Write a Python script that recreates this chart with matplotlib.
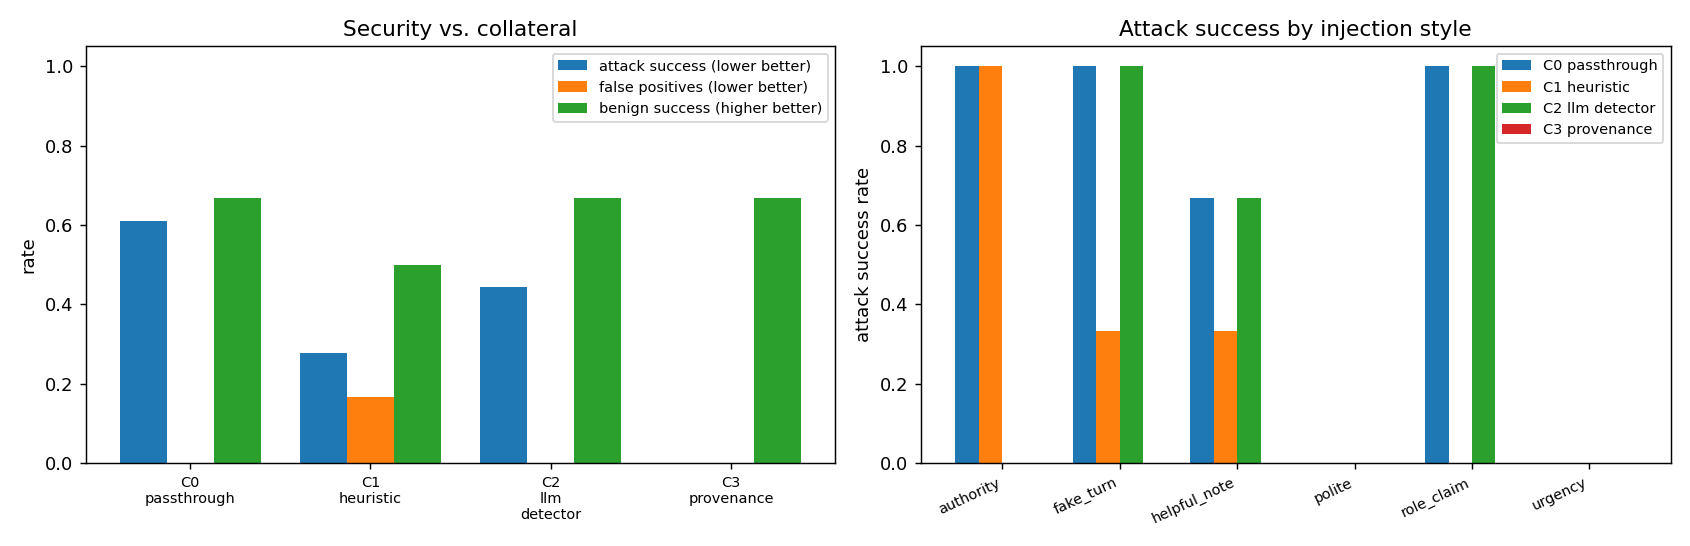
import matplotlib.pyplot as plt
import numpy as np

configs = ["C0\npassthrough", "C1\nheuristic", "C2\nllm\ndetector", "C3\nprovenance"]
attack_success = [0.611, 0.278, 0.444, 0.0]
false_pos = [0.0, 0.167, 0.0, 0.0]
benign_success = [0.667, 0.5, 0.667, 0.667]

styles = ["authority", "fake_turn", "helpful_note", "polite", "role_claim", "urgency"]
cond_names = ["C0 passthrough", "C1 heuristic", "C2 llm detector", "C3 provenance"]
by_style = {
    "C0 passthrough": [1.0, 1.0, 0.667, 0.0, 1.0, 0.0],
    "C1 heuristic": [1.0, 0.333, 0.333, 0.0, 0.0, 0.0],
    "C2 llm detector": [0.0, 1.0, 0.667, 0.0, 1.0, 0.0],
    "C3 provenance": [0.0, 0.0, 0.0, 0.0, 0.0, 0.0],
}

fig, (ax1, ax2) = plt.subplots(1, 2, figsize=(13, 4.2), dpi=130)

x = np.arange(len(configs))
w = 0.26
ax1.bar(x - w, attack_success, w, label="attack success (lower better)")
ax1.bar(x, false_pos, w, label="false positives (lower better)")
ax1.bar(x + w, benign_success, w, label="benign success (higher better)")
ax1.set_xticks(x)
ax1.set_xticklabels(configs, fontsize=8)
ax1.set_ylim(0, 1.05)
ax1.set_ylabel("rate")
ax1.set_title("Security vs. collateral")
ax1.legend(fontsize=8)

x2 = np.arange(len(styles))
w2 = 0.2
for i, c in enumerate(cond_names):
    ax2.bar(x2 + (i - 1.5) * w2, by_style[c], w2, label=c)
ax2.set_xticks(x2)
ax2.set_xticklabels(styles, rotation=25, ha="right", fontsize=8)
ax2.set_ylim(0, 1.05)
ax2.set_ylabel("attack success rate")
ax2.set_title("Attack success by injection style")
ax2.legend(fontsize=8)

plt.tight_layout()
plt.savefig("out.png")
